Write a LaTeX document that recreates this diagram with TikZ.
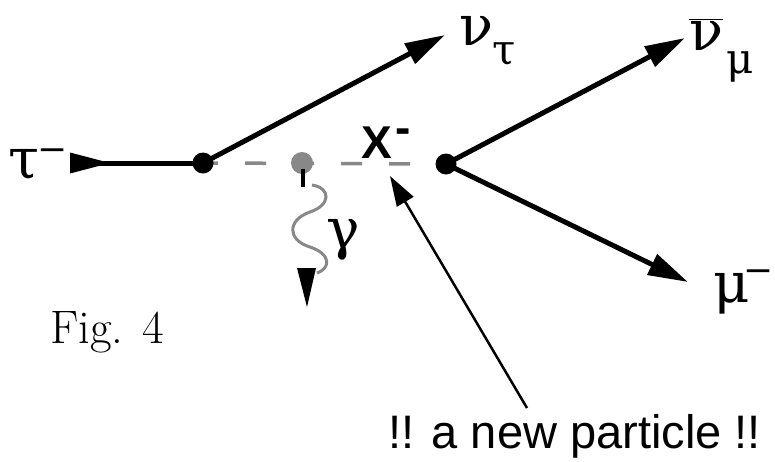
\documentclass[tikz,border=0pt]{standalone}
\usepackage{fontspec}
\setsansfont{Liberation Sans}
\newfontfamily\grkfont{DejaVu Serif}
\usetikzlibrary{arrows.meta}
\definecolor{dgray}{HTML}{888888}
\newcommand{\supminus}[2]{\kern#1\raisebox{#2}{\fontsize{36}{36}\selectfont −}}
\begin{document}
\begin{tikzpicture}[x=1pt,y=-1pt,
  vertex/.style={circle,fill=black,inner sep=0pt,minimum size=21pt},
  gdot/.style={circle,fill=dgray,inner sep=0pt,minimum size=22pt},
  fermion/.style={line width=5pt,-{Triangle[length=40pt,width=22pt]}},
  greek/.style={inner sep=0pt,font=\grkfont\fontsize{56}{56}\selectfont},
  greeksub/.style={inner sep=0pt,font=\grkfont\fontsize{42}{42}\selectfont},
  annot/.style={line width=2.5pt,-{Triangle[length=30pt,width=19pt]}},
  dashline/.style={dgray,line width=3.5pt,dash pattern=on 21pt off 27pt,dash phase=6pt},
  photon/.style={dgray,line width=3pt},
  lbl/.style={inner sep=0pt}]
\useasboundingbox (0,0) rectangle (775,461);
% coordinates
\coordinate (tin) at (70,163);
\coordinate (ntautip) at (445,35);
\coordinate (nubtip) at (685,38);
\coordinate (mutip) at (688,282);
\coordinate (ann) at (527,408);
\coordinate (anntip) at (390,176);
\coordinate (tick1) at (303,169);
\coordinate (tick2) at (303,187);
\coordinate (phend) at (317,273);
\coordinate (phtip) at (307,307);
% dashed propagator
\draw[dashline] (203,163) -- (446,164);
% vertices
\node[vertex] (v1) at (203,163) {};
\node[gdot] (g) at (302,163) {};
\node[vertex] (v2) at (446,164) {};
% incoming tau
\draw[line width=5pt] (tin) -- (v1.center);
\fill (tin) ++(0,-10.5) -- ++(40,10.5) -- ++(-40,10.5) -- cycle;
% outgoing lines
\draw[fermion] (v1.center) -- (ntautip);
\draw[fermion] (v2.center) -- (nubtip);
\draw[fermion] (v2.center) -- (mutip);
% photon
\draw[line width=4pt] (tick1) -- (tick2);
\draw[photon] (312,185) .. controls (331,188) and (331,205) .. (310,212)
  .. controls (287,220) and (287,240) .. (310,247)
  .. controls (331,254) and (331,268) .. (phend);
\fill (phtip) -- ++(-10,-39) -- ++(19,0) -- cycle;
% annotation arrow
\draw[annot] (ann) -- (anntip);
% labels
\node[greek,anchor=base west] (tau) at (8,178) {τ\supminus{-2pt}{17pt}};
\node[greek,anchor=base west] (nu1) at (459,45) {ν};
\node[greeksub,anchor=base west] (nu1s) at (492,64) {τ};
\node[greek,anchor=base west] (nu2) at (689,50) {$\overline{\hbox{ν}}$};
\node[greeksub,anchor=base west] (nu2s) at (726,73) {μ};
\node[greek,anchor=base west] (mu) at (713,302) {μ\supminus{-6pt}{20pt}};
\node[greek,anchor=center] (gam) at (343,240) {γ};
\node[lbl,anchor=base west,font=\sffamily\bfseries\fontsize{46}{46}\selectfont] (X) at (361,158) {X\kern4pt\raisebox{15pt}{-}};
\node[lbl,anchor=base west,font=\rmfamily\fontsize{47}{47}\selectfont] (fig) at (50,343) {Fig. 4};
\node[lbl,anchor=base west,font=\sffamily\fontsize{47}{47}\selectfont] (txt) at (388,448) {!! a new particle !!};
\end{tikzpicture}
\end{document}
